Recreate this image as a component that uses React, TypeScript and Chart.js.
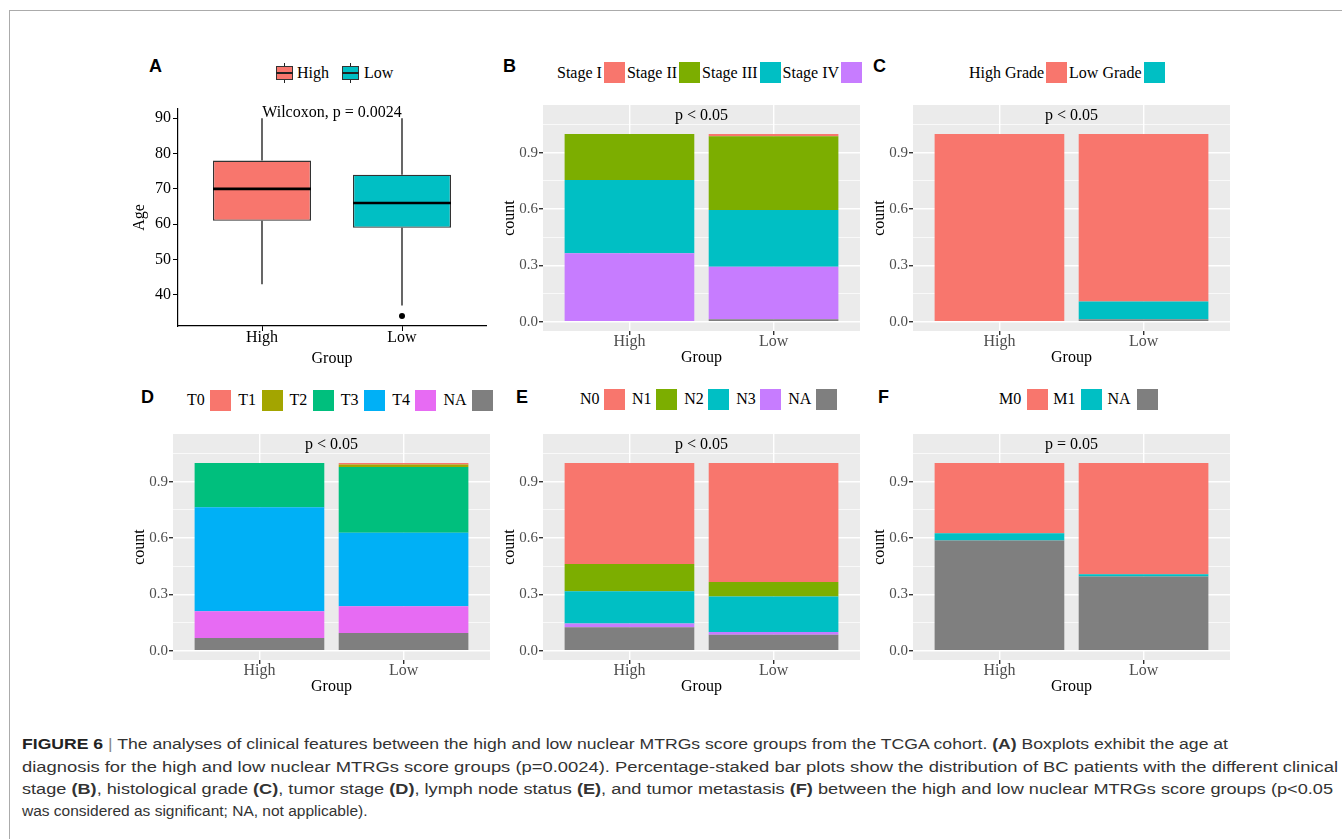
import React, { useEffect, useLayoutEffect, useRef } from "react";
import { Chart, registerables } from "chart.js";

Chart.register(...registerables);

// ---------------- data ----------------
const groups = ["High", "Low"];

// Panel A: age boxplot
const ageQ1 = [61, 59];
const ageMedian = [70, 66];
const ageQ3 = [78, 74];
const ageWhiskerLow = [43, 37];
const ageWhiskerHigh = [90, 90];
const ageOutliers = [[], [34]];
const ageTicks = [40, 50, 60, 70, 80, 90];
const wilcoxonLabel = "Wilcoxon, p = 0.0024";

// Panel B: clinical stage (top of stack first)
const stageSeries = ["Stage I", "Stage II", "Stage III", "Stage IV", "NA"];
const stageHigh = [0, 0.245, 0.391, 0.364, 0];
const stageLow = [0.011, 0.394, 0.302, 0.281, 0.012];
const stageLegend = ["Stage I", "Stage II", "Stage III", "Stage IV"];

// Panel C: histological grade
const gradeSeries = ["High Grade", "Low Grade", "NA"];
const gradeHigh = [0.997, 0.003, 0];
const gradeLow = [0.893, 0.095, 0.012];
const gradeLegend = ["High Grade", "Low Grade"];

// Panel D: tumor stage
const tSeries = ["T0", "T1", "T2", "T3", "T4", "NA"];
const tHigh = [0, 0, 0.235, 0.555, 0.143, 0.067];
const tLow = [0.007, 0.014, 0.351, 0.392, 0.142, 0.094];

// Panel E: lymph node status
const nSeries = ["N0", "N1", "N2", "N3", "NA"];
const nHigh = [0.538, 0.145, 0.173, 0.02, 0.124];
const nLow = [0.634, 0.078, 0.189, 0.014, 0.085];

// Panel F: metastasis
const mSeries = ["M0", "M1", "NA"];
const mHigh = [0.374, 0.039, 0.587];
const mLow = [0.593, 0.012, 0.395];

const pLabels = ["p < 0.05", "p < 0.05", "p < 0.05", "p < 0.05", "p = 0.05"];

const yMajor = [0, 0.3, 0.6, 0.9];
const yMinor = [0.15, 0.45, 0.75, 1.05];

// ---------------- styles ----------------
const SALMON = "#F8766D";
const TEAL = "#00BFC4";
const GREEN4 = "#7CAE00";
const PURPLE4 = "#C77CFF";
const NA_GREY = "#7F7F7F";
const stageColors = [SALMON, GREEN4, TEAL, PURPLE4, NA_GREY];
const gradeColors = [SALMON, TEAL, NA_GREY];
const tColors = [SALMON, "#A3A500", "#00BF7D", "#00B0F6", "#E76BF3", NA_GREY];
const nColors = [SALMON, GREEN4, TEAL, PURPLE4, NA_GREY];
const mColors = [SALMON, TEAL, NA_GREY];
const boxColors = [SALMON, TEAL];

const SERIF = '"Liberation Serif", "Times New Roman", serif';
const SANS = '"Liberation Sans", Arial, sans-serif';
const PANEL_BG = "#EBEBEB";
const Y_MIN = -0.05;
const Y_MAX = 1.155;
const X_MIN = 0.4;
const X_MAX = 2.6;
const BOX_W = 0.7;

// ---------------- plugins ----------------
const panelBg = {
  id: "panelBg",
  beforeDraw(chart: any, _args: any, opts: any) {
    if (!opts || !opts.color) return;
    const { ctx, chartArea: a } = chart;
    ctx.save();
    ctx.fillStyle = opts.color;
    ctx.fillRect(a.left, a.top, a.right - a.left, a.bottom - a.top);
    ctx.restore();
  },
};

const annot = {
  id: "annot",
  afterDatasetsDraw(chart: any, _args: any, opts: any) {
    if (!opts || !opts.text) return;
    const { ctx } = chart;
    ctx.save();
    ctx.font = `16px ${SERIF}`;
    ctx.fillStyle = "#000";
    ctx.textAlign = "center";
    ctx.textBaseline = "middle";
    ctx.fillText(opts.text, chart.scales.x.getPixelForValue(opts.x), chart.scales.y.getPixelForValue(opts.y));
    ctx.restore();
  },
};

// ---------------- chart configs ----------------
function stackedConfig(series: string[], high: number[], low: number[], colors: string[], pText: string): any {
  const datasets = series
    .map((lab, i) => ({
      label: lab,
      data: [
        { x: 1, y: high[i] },
        { x: 2, y: low[i] },
      ],
      backgroundColor: colors[i],
      borderWidth: 0,
      categoryPercentage: 0.9,
      barPercentage: 1,
    }))
    .reverse();
  const isMajor = (v: number) => yMajor.some((m) => Math.abs(m - v) < 1e-9);
  return {
    type: "bar",
    data: { datasets },
    options: {
      responsive: false,
      animation: false,
      layout: { padding: { top: 12, right: 2, left: 0, bottom: 0 } },
      plugins: {
        legend: { display: false },
        tooltip: { enabled: false },
        panelBg: { color: PANEL_BG },
        annot: { text: pText, x: 1.5, y: 1.1 },
      },
      scales: {
        x: {
          type: "linear",
          min: X_MIN,
          max: X_MAX,
          offset: false,
          stacked: true,
          afterBuildTicks: (s: any) => {
            s.ticks = groups.map((_, i) => ({ value: i + 1 }));
          },
          afterFit: (s: any) => {
            s.height = 40;
          },
          ticks: {
            autoSkip: false,
            maxRotation: 0,
            padding: -3,
            color: "#4D4D4D",
            font: { family: SERIF, size: 16 },
            callback: (v: number) => groups[Math.round(v) - 1],
          },
          grid: { offset: false, color: "#FFFFFF", lineWidth: 1.4, tickColor: "#333333", tickLength: 4 },
          border: { display: false },
          title: {
            display: true,
            text: "Group",
            color: "#000",
            font: { family: SERIF, size: 16 },
            padding: { top: 0, bottom: 3.4 },
          },
        },
        y: {
          type: "linear",
          min: Y_MIN,
          max: Y_MAX,
          stacked: true,
          afterBuildTicks: (s: any) => {
            s.ticks = [...yMajor, ...yMinor].sort((a, b) => a - b).map((v) => ({ value: v }));
          },
          afterFit: (s: any) => {
            s.width = 50;
          },
          ticks: {
            autoSkip: false,
            padding: 1,
            color: "#4D4D4D",
            font: { family: SERIF, size: 15 },
            callback: (v: number) => (isMajor(v) ? v.toFixed(1) : ""),
          },
          grid: {
            color: "#FFFFFF",
            lineWidth: (c: any) => (c.tick && isMajor(c.tick.value) ? 1.4 : 0.7),
            tickColor: (c: any) => (c.tick && isMajor(c.tick.value) ? "#333333" : "rgba(0,0,0,0)"),
            tickLength: 4,
          },
          border: { display: false },
          title: {
            display: true,
            text: "count",
            color: "#000",
            font: { family: SERIF, size: 16 },
            padding: { top: 7.4, bottom: 0 },
          },
        },
      },
    },
    plugins: [panelBg, annot],
  };
}

function boxConfig(): any {
  const datasets: any[] = [];
  datasets.push({
    type: "bar",
    data: groups.map((_, i) => ({ x: i + 1, y: [ageQ1[i], ageQ3[i]] })),
    backgroundColor: boxColors,
    borderColor: "#333333",
    borderWidth: 1.3,
    borderSkipped: false,
    categoryPercentage: BOX_W,
    barPercentage: 1,
    order: 3,
  });
  const lineBase = { type: "line", borderColor: "#000", pointRadius: 0, fill: false, tension: 0 };
  groups.forEach((_, i) => {
    datasets.push({
      ...lineBase,
      borderWidth: 1.2,
      data: [
        { x: i + 1, y: ageWhiskerLow[i] },
        { x: i + 1, y: ageQ1[i] },
      ],
      order: 4,
    });
    datasets.push({
      ...lineBase,
      borderWidth: 1.2,
      data: [
        { x: i + 1, y: ageQ3[i] },
        { x: i + 1, y: ageWhiskerHigh[i] },
      ],
      order: 4,
    });
    datasets.push({
      ...lineBase,
      borderWidth: 2.6,
      data: [
        { x: i + 1 - BOX_W / 2, y: ageMedian[i] },
        { x: i + 1 + BOX_W / 2, y: ageMedian[i] },
      ],
      order: 1,
    });
    if (ageOutliers[i].length) {
      datasets.push({
        type: "line",
        showLine: false,
        pointRadius: 3,
        pointBackgroundColor: "#000",
        pointBorderWidth: 0,
        data: ageOutliers[i].map((v) => ({ x: i + 1, y: v })),
        order: 0,
      });
    }
  });
  return {
    type: "bar",
    data: { datasets },
    options: {
      responsive: false,
      animation: false,
      layout: { padding: { top: 12, right: 2, left: 0, bottom: 0 } },
      plugins: {
        legend: { display: false },
        tooltip: { enabled: false },
        annot: { text: wilcoxonLabel, x: 1.5, y: 91.5 },
      },
      scales: {
        x: {
          type: "linear",
          min: X_MIN,
          max: X_MAX,
          offset: false,
          afterBuildTicks: (s: any) => {
            s.ticks = groups.map((_, i) => ({ value: i + 1 }));
          },
          afterFit: (s: any) => {
            s.height = 42;
          },
          ticks: {
            autoSkip: false,
            maxRotation: 0,
            padding: -2.5,
            color: "#000",
            font: { family: SERIF, size: 16 },
            callback: (v: number) => groups[Math.round(v) - 1],
          },
          grid: { offset: false, drawOnChartArea: false, tickColor: "#000", tickLength: 5, lineWidth: 1 },
          border: { display: true, color: "#000", width: 1.2 },
          title: {
            display: true,
            text: "Group",
            color: "#000",
            font: { family: SERIF, size: 16 },
            padding: { top: 0, bottom: 0 },
          },
        },
        y: {
          type: "linear",
          min: 31.2,
          max: 92.6,
          afterBuildTicks: (s: any) => {
            s.ticks = ageTicks.map((v) => ({ value: v }));
          },
          afterFit: (s: any) => {
            s.width = 50;
          },
          ticks: {
            autoSkip: false,
            padding: 2,
            color: "#000",
            font: { family: SERIF, size: 16 },
            callback: (v: number) => String(v),
          },
          grid: { drawOnChartArea: false, tickColor: "#000", tickLength: 5, lineWidth: 1 },
          border: { display: true, color: "#000", width: 1.2 },
          title: {
            display: true,
            text: "Age",
            color: "#000",
            font: { family: SERIF, size: 16 },
            padding: { top: 2.4, bottom: 0 },
          },
        },
      },
    },
    plugins: [annot],
  };
}

// ---------------- components ----------------
function ChartCanvas(props: { left: number; top: number; width: number; height: number; build: () => any }) {
  const ref = useRef<HTMLCanvasElement | null>(null);
  useEffect(() => {
    const chart = new Chart(ref.current as HTMLCanvasElement, props.build());
    return () => chart.destroy();
  }, []);
  return (
    <canvas
      ref={ref}
      width={props.width}
      height={props.height}
      style={{ position: "absolute", left: props.left, top: props.top, width: props.width, height: props.height }}
    />
  );
}

function SwatchLegend(props: { left: number; cy: number; labels: string[]; colors: string[]; textGap: number; boxGap: number }) {
  return (
    <div
      style={{
        position: "absolute",
        left: props.left,
        top: props.cy - 11,
        height: 22,
        display: "flex",
        alignItems: "center",
        font: `16px ${SERIF}`,
        color: "#000",
        whiteSpace: "nowrap",
      }}
    >
      {props.labels.map((l, i) => (
        <React.Fragment key={i}>
          <span style={{ marginRight: props.textGap }}>{l}</span>
          <span
            style={{
              display: "inline-block",
              flex: "none",
              width: 21,
              height: 21,
              background: props.colors[i],
              marginRight: props.boxGap,
            }}
          />
        </React.Fragment>
      ))}
    </div>
  );
}

function BoxKey({ color }: { color: string }) {
  return (
    <div style={{ position: "relative", width: 17, height: 22, flex: "none" }}>
      <div style={{ position: "absolute", left: 7.9, top: 1, width: 1.2, height: 20, background: "#222" }} />
      <div
        style={{
          position: "absolute",
          left: 0,
          top: 4,
          width: 17,
          height: 14,
          boxSizing: "border-box",
          background: color,
          border: "1.2px solid #333",
        }}
      />
      <div style={{ position: "absolute", left: 0, top: 10.2, width: 17, height: 1.6, background: "#222" }} />
    </div>
  );
}

function FitLine(props: { left: number; top: number; width?: number; children: React.ReactNode }) {
  const ref = useRef<HTMLSpanElement | null>(null);
  useLayoutEffect(() => {
    const el = ref.current;
    if (!el || !props.width) return;
    el.style.transform = "none";
    const w = el.getBoundingClientRect().width;
    if (w > 0) el.style.transform = `scaleX(${props.width / w})`;
  }, []);
  return (
    <div style={{ position: "absolute", left: props.left, top: props.top, height: 22, lineHeight: "22px", whiteSpace: "nowrap" }}>
      <span ref={ref} style={{ display: "inline-block", transformOrigin: "0 0" }}>
        {props.children}
      </span>
    </div>
  );
}

function Letter(props: { x: number; cy: number; t: string }) {
  return (
    <div
      style={{
        position: "absolute",
        left: props.x,
        top: props.cy - 11,
        height: 22,
        lineHeight: "22px",
        font: `bold 18px ${SANS}`,
        color: "#000",
      }}
    >
      {props.t}
    </div>
  );
}

export default function App() {
  const PW = 317;
  const PH = 226;
  const row1Top = 105;
  const row2Top = 434;
  const cw = 50 + PW + 2;
  const ch = 12 + PH + 40;
  return (
    <div
      style={{
        position: "absolute",
        left: 0,
        top: 0,
        width: 1342,
        height: 839,
        overflow: "hidden",
        background: "#fff",
      }}
    >
      <div
        style={{
          position: "absolute",
          left: 9,
          top: 10,
          width: 1345,
          height: 840,
          borderTop: "1.5px solid #ABABAB",
          borderLeft: "1.5px solid #ABABAB",
        }}
      />

      {/* Panel letters */}
      <Letter x={149} cy={67} t="A" />
      <Letter x={503} cy={67} t="B" />
      <Letter x={873} cy={67} t="C" />
      <Letter x={141} cy={398} t="D" />
      <Letter x={516} cy={398} t="E" />
      <Letter x={878} cy={398} t="F" />

      {/* Panel A legend */}
      <div
        style={{
          position: "absolute",
          left: 276,
          top: 62,
          height: 22,
          display: "flex",
          alignItems: "center",
          font: `16px ${SERIF}`,
          whiteSpace: "nowrap",
        }}
      >
        <BoxKey color={boxColors[0]} />
        <span style={{ marginLeft: 4, marginRight: 13 }}>{groups[0]}</span>
        <BoxKey color={boxColors[1]} />
        <span style={{ marginLeft: 5 }}>{groups[1]}</span>
      </div>

      <SwatchLegend left={557} cy={72.5} labels={stageLegend} colors={stageColors} textGap={2} boxGap={2} />
      <SwatchLegend left={969} cy={72.5} labels={gradeLegend} colors={gradeColors} textGap={2} boxGap={2} />
      <SwatchLegend left={187} cy={400} labels={tSeries} colors={tColors} textGap={5.5} boxGap={7} />
      <SwatchLegend left={580} cy={399} labels={nSeries} colors={nColors} textGap={4.5} boxGap={7} />
      <SwatchLegend left={999} cy={399} labels={mSeries} colors={mColors} textGap={6} boxGap={5} />

      <ChartCanvas left={128} top={97} width={362} height={271} build={boxConfig} />
      <ChartCanvas left={493} top={row1Top - 12} width={cw} height={ch} build={() => stackedConfig(stageSeries, stageHigh, stageLow, stageColors, pLabels[0])} />
      <ChartCanvas left={863} top={row1Top - 12} width={cw} height={ch} build={() => stackedConfig(gradeSeries, gradeHigh, gradeLow, gradeColors, pLabels[1])} />
      <ChartCanvas left={123} top={row2Top - 12} width={cw} height={ch} build={() => stackedConfig(tSeries, tHigh, tLow, tColors, pLabels[2])} />
      <ChartCanvas left={493} top={row2Top - 12} width={cw} height={ch} build={() => stackedConfig(nSeries, nHigh, nLow, nColors, pLabels[3])} />
      <ChartCanvas left={863} top={row2Top - 12} width={cw} height={ch} build={() => stackedConfig(mSeries, mHigh, mLow, mColors, pLabels[4])} />

      {/* Caption */}
      <div style={{ font: `15.5px ${SANS}`, color: "#333" }}>
        <FitLine left={22} top={733} width={1206}>
          <b style={{ color: "#222" }}>FIGURE 6</b> <span style={{ color: "#888" }}>|</span> The analyses of clinical features between the high and low nuclear MTRGs score groups from the TCGA cohort. <b>(A)</b> Boxplots exhibit the age at
        </FitLine>
        <FitLine left={22} top={756} width={1316}>
          diagnosis for the high and low nuclear MTRGs score groups (p=0.0024). Percentage-staked bar plots show the distribution of BC patients with the different clinical
        </FitLine>
        <FitLine left={22} top={778} width={1311}>
          stage <b>(B)</b>, histological grade <b>(C)</b>, tumor stage <b>(D)</b>, lymph node status <b>(E)</b>, and tumor metastasis <b>(F)</b> between the high and low nuclear MTRGs score groups (p&lt;0.05
        </FitLine>
        <FitLine left={22} top={800}>
          was considered as significant; NA, not applicable).
        </FitLine>
      </div>
    </div>
  );
}
